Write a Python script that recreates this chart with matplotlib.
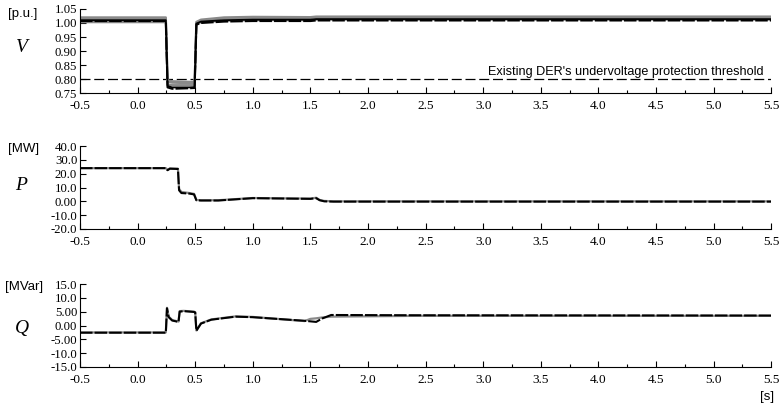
import numpy as np
import matplotlib.pyplot as plt

# time breakpoints [s] and recorded traces for each panel
t_v = [-0.5, 0.245, 0.26, 0.30, 0.45, 0.495, 0.51, 0.55, 0.75, 1.0, 1.5, 1.55, 5.5]
v_gray_1 = [1.020, 1.020, 0.795, 0.792, 0.790, 0.790, 1.004, 1.012, 1.020, 1.022, 1.021, 1.023, 1.023]
v_gray_2 = [1.015, 1.015, 0.790, 0.787, 0.785, 0.785, 1.000, 1.008, 1.016, 1.018, 1.018, 1.020, 1.020]
v_gray_3 = [1.003, 1.003, 0.780, 0.778, 0.778, 0.778, 0.995, 1.003, 1.008, 1.010, 1.010, 1.012, 1.012]
v_solid = [1.010, 1.010, 0.775, 0.770, 0.770, 0.771, 0.998, 1.005, 1.010, 1.012, 1.012, 1.014, 1.014]
v_dashed = [1.007, 1.007, 0.770, 0.765, 0.767, 0.768, 0.994, 1.000, 1.005, 1.007, 1.007, 1.009, 1.009]
v_threshold = 0.80

t_p = [-0.5, 0.245, 0.26, 0.28, 0.35, 0.36, 0.38, 0.45, 0.49, 0.51, 0.55, 0.70, 1.0, 1.2, 1.5, 1.55, 1.58, 1.62, 1.70, 5.5]
p_gray = [24.0, 24.0, 22.8, 23.8, 23.6, 9.0, 6.8, 6.0, 5.4, 1.0, 0.8, 0.8, 2.4, 2.2, 2.0, 2.6, 1.0, 0.3, 0.0, 0.0]
p_dashed = [24.0, 24.0, 22.5, 23.6, 23.4, 8.0, 6.0, 5.6, 5.0, 0.8, 0.6, 0.6, 2.3, 2.1, 1.8, 2.3, 0.8, 0.0, -0.2, -0.2]

t_q = [-0.5, 0.245, 0.255, 0.27, 0.30, 0.355, 0.365, 0.40, 0.49, 0.50, 0.51, 0.55, 0.64, 0.85, 1.0, 1.45, 1.50, 1.55, 1.60, 1.68, 2.45, 5.5]
q_gray = [-2.5, -2.5, 6.4, 3.2, 2.0, 1.4, 5.2, 5.3, 5.0, 4.8, -1.8, 0.8, 2.2, 3.3, 3.1, 1.6, 2.4, 2.6, 2.9, 3.2, 3.5, 3.5]
q_dashed = [-2.6, -2.6, 6.2, 3.0, 1.8, 1.3, 5.0, 5.2, 4.9, 4.7, -1.9, 0.7, 2.1, 3.2, 3.0, 1.7, 1.5, 1.3, 2.5, 3.8, 3.7, 3.6]

x_ticks = np.arange(-0.5, 5.51, 0.5)
x_ticklabels = ['%.1f' % x for x in x_ticks]
v_ticks = [0.75, 0.80, 0.85, 0.90, 0.95, 1.00, 1.05]
v_ticklabels = ['0.75', '0.80', '0.85', '0.90', '0.95', '1.00', '1.05']
p_ticks = [-20, -10, 0, 10, 20, 30, 40]
p_ticklabels = ['-20.0', '-10.0', '0.00', '10.0', '20.0', '30.0', '40.0']
q_ticks = [-15, -10, -5, 0, 5, 10, 15]
q_ticklabels = ['-15.0', '-10.0', '-5.00', '0.00', '5.00', '10.0', '15.0']

SERIF = 'Liberation Serif'
SANS = 'Liberation Sans'
GRAY = '#8a8a8a'


def style_axis(ax, yticks, yticklabels, ylim):
    for side in ('top', 'right'):
        ax.spines[side].set_visible(False)
    ax.set_xlim(-0.5, 5.5)
    ax.set_ylim(*ylim)
    ax.set_xticks(x_ticks)
    ax.set_xticklabels(x_ticklabels, fontfamily=SERIF, fontsize=9.5)
    ax.set_xticks(np.arange(-0.25, 5.5, 0.5), minor=True)
    ax.set_yticks(yticks)
    ax.set_yticklabels(yticklabels, fontfamily=SERIF, fontsize=9.2)
    ax.tick_params(axis='both', which='major', direction='in', length=4, width=0.8)
    ax.tick_params(axis='x', which='major', pad=5)
    ax.tick_params(axis='y', which='major', pad=2)
    ax.tick_params(axis='both', which='minor', direction='in', length=2, width=0.8)


fig = plt.figure(figsize=(7.82, 4.09), dpi=100)
ax_v = fig.add_axes([0.1023, 0.7726, 0.884, 0.2054])
ax_p = fig.add_axes([0.1023, 0.4401, 0.884, 0.2029])
ax_q = fig.add_axes([0.1023, 0.1027, 0.884, 0.2029])

# voltage
for trace in (v_gray_1, v_gray_2, v_gray_3):
    ax_v.plot(t_v, trace, color=GRAY, lw=1.6, zorder=2)
ax_v.plot(t_v, v_solid, color='black', lw=1.3, zorder=3)
ax_v.plot(t_v, v_dashed, color='black', lw=1.5, dashes=(6, 1), zorder=4)
ax_v.axhline(v_threshold, color='black', lw=0.9, dashes=(8, 3), zorder=1)
ax_v.text(5.43, 0.803, "Existing DER's undervoltage protection threshold",
          ha='right', va='bottom', fontfamily=SANS, fontsize=9.1)
style_axis(ax_v, v_ticks, v_ticklabels, (0.75, 1.05))

# active power
ax_p.plot(t_p, p_gray, color=GRAY, lw=1.6, zorder=2)
ax_p.plot(t_p, p_dashed, color='black', lw=1.5, dashes=(6, 1), zorder=3)
style_axis(ax_p, p_ticks, p_ticklabels, (-20, 40))

# reactive power
ax_q.plot(t_q, q_gray, color=GRAY, lw=1.6, zorder=2)
ax_q.plot(t_q, q_dashed, color='black', lw=1.5, dashes=(6, 1), zorder=3)
style_axis(ax_q, q_ticks, q_ticklabels, (-15, 15))

# units and quantity names
fig.text(23 / 782, 1 - 14 / 409, '[p.u.]', ha='center', va='center', fontfamily=SANS, fontsize=9.5)
fig.text(22 / 782, 1 - 47 / 409, 'V', ha='center', va='center', fontfamily=SERIF, style='italic', fontsize=14)
fig.text(24 / 782, 1 - 149 / 409, '[MW]', ha='center', va='center', fontfamily=SANS, fontsize=9.5)
fig.text(21 / 782, 1 - 186 / 409, 'P', ha='center', va='center', fontfamily=SERIF, style='italic', fontsize=14)
fig.text(24 / 782, 1 - 287 / 409, '[MVar]', ha='center', va='center', fontfamily=SANS, fontsize=9.5)
fig.text(22 / 782, 1 - 328 / 409, 'Q', ha='center', va='center', fontfamily=SERIF, style='italic', fontsize=14)
fig.text(767 / 782, 1 - 397 / 409, '[s]', ha='center', va='center', fontfamily=SANS, fontsize=9.5)

fig.savefig('out.png', dpi=100)
